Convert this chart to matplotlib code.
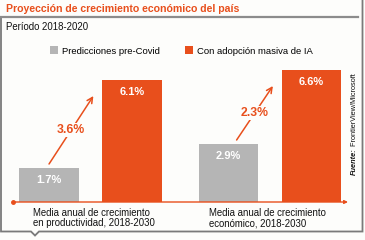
import matplotlib.pyplot as plt
import numpy as np

plt.rcParams['font.family'] = ['Liberation Sans', 'DejaVu Sans']

# datos
categorias = ["Media anual de crecimiento\nen productividad, 2018-2030",
              "Media anual de crecimiento\neconómico, 2018-2030"]
pre_covid = [1.7, 2.9]
con_ia = [6.1, 6.6]
diferencia = [3.6, 2.3]
series = ["Predicciones pre-Covid", "Con adopción masiva de IA"]

NARANJA = '#E84F1C'
GRIS = '#B5B5B5'
MARCO = '#7a7a7a'
FONDO = '#FDFDFB'

W, H = 365, 240
fig = plt.figure(figsize=(W / 100, H / 100), dpi=100)
fig.patch.set_facecolor(FONDO)

# capa de adornos en pixeles
deco = fig.add_axes([0, 0, 1, 1])
deco.set_xlim(0, W)
deco.set_ylim(H, 0)
deco.axis('off')
deco.patch.set_alpha(0)

# marco con piquito abajo
deco.plot([1, 1, 31, 35, 39, 362.5, 362.5], [17, 231.5, 231.5, 235.5, 231.5, 231.5, 0],
          color=MARCO, lw=1.3, solid_joinstyle='miter')
deco.plot([0, 358], [17, 17], color='#8c8c8c', lw=1.6)

deco.text(6, 8.5, "Proyección de crecimiento económico del país", color=NARANJA,
          fontsize=7.6, fontweight='bold', va='center', ha='left')
deco.text(6, 27.5, "Período 2018-2020", color='#111111', fontsize=6.9,
          va='center', ha='left')

# fuente vertical
t1 = deco.text(357.5, 175, "Fuente:", rotation=90, rotation_mode='anchor',
               fontsize=5.3, fontweight='bold', fontstyle='italic',
               ha='left', va='bottom', color='#111111')
deco.annotate(" FrontierView/Microsoft", xy=(1, 1), xycoords=t1, rotation=90,
              rotation_mode='anchor', fontsize=5.3, ha='left', va='bottom',
              color='#111111')

# ejes de las barras: base en y=202 px, 20 px por punto
ax = fig.add_axes([0, (H - 202) / H, 1, 140 / H])
ax.set_ylim(0, 7)
ax.set_xlim((0 - 90.5) / 179.5, (W - 90.5) / 179.5)
ax.axis('off')
ax.patch.set_alpha(0)

x = np.arange(len(categorias))
off = 0.231
ancho = 0.33
b1 = ax.bar(x - off, pre_covid, ancho, color=GRIS, label=series[0])
b2 = ax.bar(x + off, con_ia, ancho, color=NARANJA, label=series[1])

for barras, vals in [(b1, pre_covid), (b2, con_ia)]:
    for r, v in zip(barras, vals):
        ax.text(r.get_x() + r.get_width() / 2, v - 0.6, f"{v:.1f}%", color='white',
                fontsize=8, fontweight='bold', ha='center', va='center')

# flechas
for i in range(len(categorias)):
    x0 = x[i] - off + (0.0 if i == 0 else 0.045)
    y0 = pre_covid[i] + 0.2
    x1 = x[i] + off - ancho / 2 - 0.05
    y1 = con_ia[i] - 0.8
    ax.annotate("", xy=(x1, y1), xytext=(x0, y0),
                arrowprops=dict(arrowstyle='->', color=NARANJA, lw=1.1,
                                mutation_scale=10, shrinkA=0, shrinkB=0))
    ax.text((x0 + x1) / 2, (y0 + y1) / 2, f"{diferencia[i]:.1f}%", color=NARANJA,
            fontsize=8.8, fontweight='bold', ha='center', va='center',
            bbox=dict(facecolor=FONDO, edgecolor='none', pad=0.5))

# linea base
ax.annotate("", xy=((348 - 90.5) / 179.5, 0), xytext=((13 - 90.5) / 179.5, 0),
            arrowprops=dict(arrowstyle='-|>', color=NARANJA, lw=1, mutation_scale=5,
                            shrinkA=0, shrinkB=0), annotation_clip=False)
ax.plot([(13 - 90.5) / 179.5], [0], 'o', color=NARANJA, ms=2.5, clip_on=False)

# etiquetas de categoria
for xi, etiqueta in zip([33, 209], categorias):
    deco.text(xi, 218, etiqueta, fontsize=6.9, ha='left', va='center',
              color='#111111', linespacing=1.1)

ax.legend(loc='center', bbox_to_anchor=(0.497, (202 - 51) / 140), ncol=2, frameon=False,
          fontsize=6.8, handlelength=0.85, handleheight=0.85, handletextpad=0.5,
          columnspacing=2.6, borderaxespad=0)

fig.savefig('out.png', dpi=100, facecolor=fig.get_facecolor())
